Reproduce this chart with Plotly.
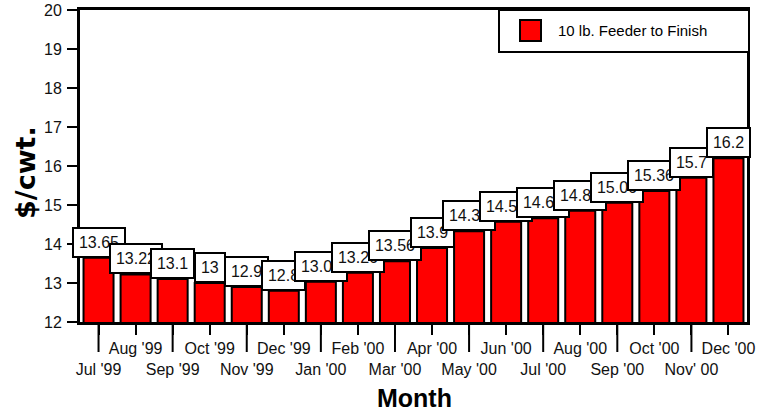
import plotly.graph_objects as go

# Monthly price series
months = ["Jul '99", "Aug '99", "Sep '99", "Oct '99", "Nov '99", "Dec '99",
          "Jan '00", "Feb '00", "Mar '00", "Apr '00", "May '00", "Jun '00",
          "Jul '00", "Aug '00", "Sep '00", "Oct '00", "Nov' 00", "Dec '00"]
prices = [13.65, 13.22, 13.1, 13.0, 12.9, 12.8,
          13.03, 13.26, 13.56, 13.9, 14.33, 14.57,
          14.66, 14.85, 15.06, 15.36, 15.7, 16.2]
series_name = "10 lb. Feeder to Finish"
y_ticks = [12, 13, 14, 15, 16, 17, 18, 19, 20]

FONT = "Liberation Sans, Arial, sans-serif"
W, H = 758, 415
ML, MR, MT, MB = 80, 11, 10, 93
PW, PH = W - ML - MR, H - MT - MB
LABEL_SIZE = 16


def px_x(p):
    return (p - ML) / PW


def px_y(p):
    return 1 - (p - MT) / PH


def fmt(v):
    return f"{v:.2f}".rstrip("0").rstrip(".")


def text_width(s, size=LABEL_SIZE):
    w = 0.0
    for ch in s:
        w += 0.278 * size if ch == "." else 0.556 * size
    return w


fig = go.Figure()
fig.add_trace(go.Bar(
    x=months, y=prices, name=series_name,
    marker=dict(color="#FF0000", line=dict(color="black", width=2)),
    showlegend=False,
))

annotations = []
# value labels, later ones stacked on top of earlier ones
for m, v in zip(months, prices):
    t = fmt(v)
    annotations.append(dict(
        x=m, y=v, xref="x", yref="y", text=t, showarrow=False,
        yanchor="bottom", xanchor="center",
        bgcolor="white", bordercolor="black", borderwidth=2, borderpad=2,
        width=text_width(t) + 6, height=23,
        font=dict(family=FONT, size=LABEL_SIZE, color="#111"),
    ))

# legend text
annotations.append(dict(
    x=px_x(556), y=px_y(31), xref="paper", yref="paper", text=series_name,
    showarrow=False, xanchor="left", yanchor="middle",
    font=dict(family=FONT, size=15, color="black"),
))
# axis titles
annotations.append(dict(
    x=px_x(414), y=px_y(398), xref="paper", yref="paper", text="<b>Month</b>",
    showarrow=False, xanchor="center", yanchor="middle",
    font=dict(family=FONT, size=25, color="black"),
))
annotations.append(dict(
    x=px_x(25), y=px_y(173), xref="paper", yref="paper", text="<b>$/cwt.</b>",
    showarrow=False, xanchor="center", yanchor="middle", textangle=-90,
    font=dict(family="DejaVu Sans, sans-serif", size=27, color="black"),
))

shapes = []
# long ticks under every other month
for i, m in enumerate(months):
    if i % 2 == 0:
        shapes.append(dict(type="line", xref="x", yref="paper",
                           x0=m, x1=m, y0=0, y1=-30 / PH,
                           line=dict(color="black", width=2), layer="above"))
# legend box and swatch
shapes.append(dict(type="rect", xref="paper", yref="paper",
                   x0=px_x(499), x1=px_x(749), y0=px_y(52), y1=px_y(10),
                   fillcolor="white", line=dict(color="black", width=2),
                   layer="above"))
shapes.append(dict(type="rect", xref="paper", yref="paper",
                   x0=px_x(520), x1=px_x(541), y0=px_y(41), y1=px_y(20),
                   fillcolor="#FF0000", line=dict(color="black", width=2),
                   layer="above"))

ticktext = [("<br>" if i % 2 == 0 else "") + m for i, m in enumerate(months)]

fig.update_layout(
    width=W, height=H,
    margin=dict(l=ML, r=MR, t=MT, b=MB),
    paper_bgcolor="white", plot_bgcolor="white",
    bargap=0.19,
    annotations=annotations, shapes=shapes,
    font=dict(family=FONT, size=16, color="black"),
    xaxis=dict(
        type="category", tickmode="array", tickvals=months, ticktext=ticktext,
        range=[-0.5, len(months) - 0.5], automargin=False,
        ticks="outside", ticklen=10, tickwidth=2, tickcolor="black",
        showline=True, linewidth=3, linecolor="black", mirror=True,
        showgrid=False, tickangle=0, ticklabelstandoff=0,
        tickfont=dict(family=FONT, size=16, color="#111"),
    ),
    yaxis=dict(
        range=[12, 20], tickmode="array", tickvals=y_ticks, automargin=False,
        ticks="outside", ticklen=10, tickwidth=2, tickcolor="black",
        showline=True, linewidth=3, linecolor="black", mirror=True,
        showgrid=False, zeroline=False, ticklabelstandoff=2,
        tickfont=dict(family=FONT, size=16, color="#111"),
    ),
)

fig.write_html("out.html")
